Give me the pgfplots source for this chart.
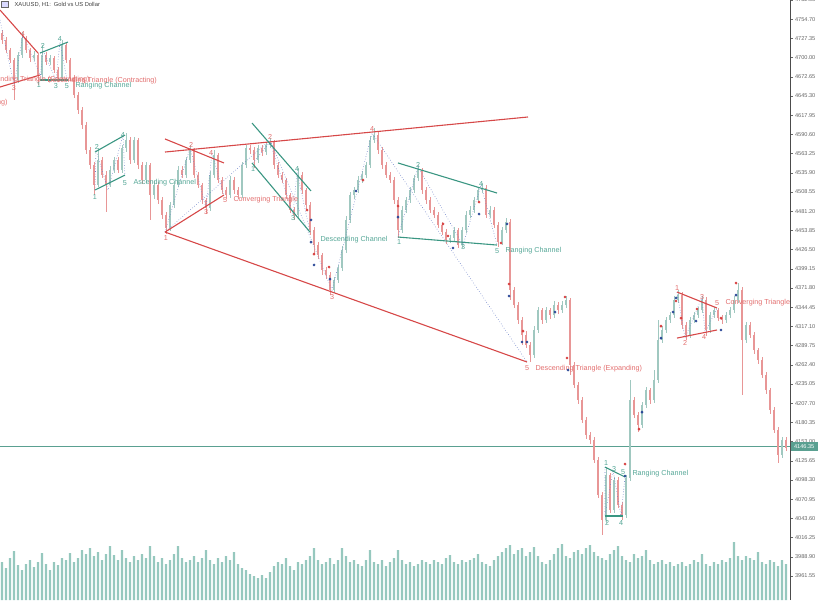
\documentclass[border=0pt]{standalone}
\usepackage{pgfplots}
\usepackage{pgfplotstable}
\usepackage{fontspec}
\setmainfont{Liberation Sans}
\pgfplotsset{compat=1.18}
\definecolor{upc}{RGB}{160,200,192}
\definecolor{dnc}{RGB}{232,150,150}
\definecolor{volc}{RGB}{150,200,190}
\definecolor{redline}{RGB}{214,72,72}
\definecolor{tealline}{RGB}{58,150,130}
\definecolor{redtxt}{RGB}{226,110,110}
\definecolor{tealtxt}{RGB}{84,166,150}
\definecolor{zig}{RGB}{110,130,200}
\definecolor{mred}{RGB}{214,60,60}
\definecolor{mblue}{RGB}{40,70,150}
\definecolor{pricec}{RGB}{90,160,145}
\newcommand{\lbl}{\fontsize{7.2}{8}\selectfont}

\pgfplotstableread{
o h l c
4735 4740 4720 4725
4725 4729 4706 4711
4711 4714 4692 4697
4697 4700 4640 4668
4668 4708 4664 4704
4704 4736 4700 4728
4728 4731 4706 4711
4711 4714 4694 4699
4699 4709 4695 4704
4704 4707 4661 4675
4675 4718 4671 4704
4704 4708 4690 4694
4694 4704 4689 4699
4699 4702 4678 4682
4682 4686 4665 4671
4671 4725 4668 4718
4718 4721 4692 4697
4697 4700 4666 4671
4671 4675 4642 4647
4647 4651 4620 4625
4625 4630 4598 4604
4604 4608 4562 4568
4568 4572 4541 4547
4547 4551 4504 4519
4519 4571 4515 4554
4554 4558 4528 4533
4533 4538 4480 4519
4519 4545 4515 4540
4540 4559 4536 4554
4554 4558 4535 4540
4540 4576 4536 4571
4571 4593 4566 4583
4583 4587 4549 4554
4554 4587 4550 4583
4583 4586 4542 4547
4547 4551 4520 4526
4526 4552 4522 4547
4547 4550 4469 4504
4504 4524 4499 4519
4519 4523 4492 4497
4497 4501 4470 4476
4476 4480 4449 4457
4457 4495 4453 4490
4490 4524 4486 4519
4519 4545 4515 4540
4540 4546 4528 4533
4533 4559 4529 4554
4554 4575 4550 4568
4568 4571 4528 4533
4533 4537 4514 4519
4519 4522 4492 4497
4497 4500 4477 4486
4486 4538 4482 4533
4533 4568 4529 4561
4561 4564 4521 4526
4526 4530 4506 4511
4511 4515 4498 4504
4504 4531 4500 4526
4526 4530 4506 4511
4511 4515 4499 4504
4504 4552 4500 4547
4547 4576 4543 4571
4571 4575 4563 4568
4568 4572 4543 4554
4554 4576 4550 4571
4571 4575 4560 4565
4565 4579 4561 4575
4575 4585 4571 4580
4580 4583 4542 4547
4547 4551 4528 4533
4533 4537 4521 4526
4526 4529 4499 4504
4504 4507 4478 4483
4483 4487 4469 4476
4476 4543 4472 4533
4533 4537 4506 4511
4511 4514 4485 4490
4490 4494 4448 4454
4454 4458 4419 4433
4433 4437 4413 4419
4419 4422 4391 4397
4397 4402 4384 4390
4390 4394 4362 4369
4369 4388 4365 4383
4383 4405 4379 4400
4400 4431 4396 4426
4426 4474 4422 4469
4469 4509 4465 4504
4504 4516 4499 4511
4511 4531 4507 4526
4526 4538 4521 4533
4533 4552 4529 4547
4547 4588 4543 4583
4583 4600 4579 4590
4590 4594 4563 4568
4568 4572 4542 4547
4547 4551 4528 4533
4533 4537 4521 4526
4526 4530 4492 4497
4497 4501 4443 4454
4454 4488 4450 4483
4483 4502 4479 4497
4497 4516 4493 4511
4511 4533 4507 4528
4528 4547 4524 4540
4540 4543 4506 4511
4511 4515 4492 4497
4497 4501 4478 4483
4483 4487 4471 4476
4476 4480 4457 4462
4462 4466 4447 4452
4452 4456 4435 4440
4440 4448 4436 4443
4443 4459 4439 4454
4454 4457 4429 4433
4433 4459 4429 4454
4454 4481 4450 4476
4476 4488 4472 4483
4483 4502 4479 4497
4497 4516 4493 4511
4511 4521 4507 4514
4514 4518 4471 4476
4476 4488 4472 4483
4483 4487 4457 4462
4462 4466 4430 4437
4437 4459 4433 4454
4454 4472 4450 4466
4466 4470 4355 4369
4369 4373 4343 4348
4348 4352 4321 4326
4326 4330 4291 4305
4305 4310 4286 4291
4291 4295 4266 4276
4276 4317 4272 4312
4312 4345 4308 4340
4340 4344 4321 4326
4326 4345 4322 4340
4340 4344 4328 4333
4333 4353 4329 4348
4348 4352 4335 4340
4340 4353 4336 4348
4348 4360 4344 4355
4355 4358 4248 4262
4262 4266 4229 4234
4234 4238 4207 4212
4212 4216 4179 4184
4184 4188 4157 4162
4162 4167 4150 4155
4155 4160 4122 4127
4127 4131 4072 4077
4077 4081 4020 4041
4041 4117 4037 4105
4105 4109 4051 4056
4056 4103 4052 4098
4098 4102 4058 4063
4063 4067 4041 4048
4048 4106 4044 4101
4101 4241 4097 4212
4212 4216 4186 4191
4191 4195 4167 4177
4177 4210 4173 4205
4205 4231 4201 4226
4226 4230 4207 4212
4212 4255 4208 4241
4241 4326 4237 4298
4298 4317 4294 4312
4312 4331 4308 4326
4326 4338 4322 4333
4333 4360 4329 4355
4355 4369 4351 4362
4362 4366 4314 4319
4319 4323 4298 4305
4305 4331 4301 4326
4326 4338 4322 4333
4333 4345 4329 4340
4340 4360 4336 4355
4355 4359 4303 4312
4312 4338 4308 4333
4333 4345 4329 4340
4340 4344 4325 4329
4329 4333 4321 4326
4326 4338 4322 4333
4333 4345 4329 4340
4340 4360 4336 4355
4355 4379 4351 4369
4369 4373 4219 4298
4298 4324 4294 4319
4319 4323 4300 4305
4305 4309 4278 4283
4283 4287 4264 4269
4269 4273 4243 4248
4248 4252 4221 4226
4226 4230 4193 4198
4198 4202 4165 4170
4170 4174 4122 4134
4134 4160 4130 4155
4155 4159 4139 4144
}\candles

\pgfplotstableread{
v
3800
3200
4200
4900
3500
3000
3600
4000
3300
3800
4700
3600
3000
3800
3500
4200
4000
4700
3800
4200
5000
4600
5200
4400
4800
4000
4600
5400
4500
4000
5000
4200
3800
4400
4000
4600
4200
5400
4400
3800
4200
3600
4000
4600
5400
4200
3800
4000
4400
3800
4200
5000
4000
3600
4200
3800
4400
4000
4800
3600
3200
3000
2600
2400
2200
2500
2200
2800
3400
3800
3600
4200
3400
3000
3800
3600
4000
4400
5200
4000
3600
3800
4200
3600
4000
5200
4400
3800
4000
3600
3400
4000
5000
3800
3600
4000
3400
3800
4200
5000
4000
3600
3800
3400
3600
4000
3800
3600
4000
3800
3600
4200
4500
3800
3600
4000
3800
4000
4200
4600
3800
3600
3400
4000
4400
4800
5200
5500
4600
5000
5200
4400
4800
5300
4400
3800
3600
4000
4600
5200
5600
4400
4200
4800
5000
4600
5200
5500
4800
4400
4200
4000
4600
5000
5400
4400
4000
3800
4600
4200
4400
5000
4000
3600
3800
4000
3600
3800
3400
3600
3800
3400
3600
4000
3800
4600
3600
3400
3800
3600
4000
3800
4200
5800
4400
4000
4400
4200
4000
4800
3800
3600
4000
3800
3400
4000
3600
}\vol

\begin{document}
\begin{tikzpicture}
% volume
\begin{axis}[at={(0pt,0pt)}, anchor=south west, scale only axis,
  width=790pt, height=600pt, xmin=0, xmax=790, ymin=0, ymax=60000,
  hide axis]
\addplot[ybar, bar width=2.4pt, fill=volc, draw=none]
  table[x expr=4*\coordindex+2, y=v] {\vol};
\end{axis}
% price
\begin{axis}[at={(0pt,0pt)}, anchor=south west, scale only axis,
  width=790pt, height=600pt, xmin=0, xmax=790, ymin=3927.4, ymax=4782.05,
  clip=false,
  axis x line=none, axis y line*=right,
  axis line style={draw=black!70, line width=0.6pt},
  xtick=\empty,
  scaled y ticks=false,
  ytick={3961.55,3988.90,4016.25,4043.60,4070.95,4098.30,4125.65,4153.00,4180.35,4207.70,4235.05,4262.40,4289.75,4317.10,4344.45,4371.80,4399.15,4426.50,4453.85,4481.20,4508.55,4535.90,4563.25,4590.60,4617.95,4645.30,4672.65,4700.00,4727.35,4754.70,4782.05},
  yticklabels={3961.55,3988.90,4016.25,4043.60,4070.95,4098.30,4125.65,4153.00,4180.35,4207.70,4235.05,4262.40,4289.75,4317.10,4344.45,4371.80,4399.15,4426.50,4453.85,4481.20,4508.55,4535.90,4563.25,4590.60,4617.95,4645.30,4672.65,4700.00,4727.35,4754.70,4782.05},
  tick align=outside, major tick length=2.5pt,
  tick style={draw=black!60, line width=0.4pt},
  yticklabel style={font=\fontsize{5.6}{6}\selectfont, text=black!60, xshift=-1pt},
  /pgf/number format/assume math mode=true,
  candle/.style={draw=none, no markers, forget plot,
    error bars/y dir=both, error bars/y explicit, error bars/error mark=none},
]
% current price line
\addplot[pricec, line width=0.5pt, forget plot] coordinates {(0,4146.35) (790,4146.35)};

% candles: wicks
\addplot[candle, error bars/error bar style={draw=upc, line width=0.5pt}]
  table[x expr=4*\coordindex+2, y expr=0.5*(\thisrow{h}+\thisrow{l}),
    y error expr=0.5*(\thisrow{h}-\thisrow{l}),
    restrict expr to domain={\thisrow{c}-\thisrow{o}}{0:1000}] {\candles};
\addplot[candle, error bars/error bar style={draw=dnc, line width=0.5pt}]
  table[x expr=4*\coordindex+2, y expr=0.5*(\thisrow{h}+\thisrow{l}),
    y error expr=0.5*(\thisrow{h}-\thisrow{l}),
    restrict expr to domain={\thisrow{c}-\thisrow{o}}{-1000:-0.01}] {\candles};
% candles: bodies
\addplot[candle, error bars/error bar style={draw=upc, line width=1.8pt}]
  table[x expr=4*\coordindex+2, y expr=0.5*(\thisrow{o}+\thisrow{c}),
    y error expr=0.5*(\thisrow{c}-\thisrow{o}),
    restrict expr to domain={\thisrow{c}-\thisrow{o}}{0:1000}] {\candles};
\addplot[candle, error bars/error bar style={draw=dnc, line width=1.8pt}]
  table[x expr=4*\coordindex+2, y expr=0.5*(\thisrow{o}+\thisrow{c}),
    y error expr=0.5*(\thisrow{o}-\thisrow{c}),
    restrict expr to domain={\thisrow{c}-\thisrow{o}}{-1000:-0.01}] {\candles};

% zigzags (dotted)
\addplot[zig, dotted, line width=0.6pt] coordinates {(165,4451.5) (270,4582.6) (332,4368.9) (372,4592.6) (527,4266.4)};
\addplot[zig, dotted, line width=0.6pt] coordinates {(165,4451.5) (190,4571.2) (206,4485.8) (212,4564.1) (224,4504.3)};
\addplot[zig, dotted, line width=0.6pt] coordinates {(253,4549.9) (270,4579.8) (293,4477.2) (297,4537.1) (310,4451.5)};
\addplot[zig, dotted, line width=0.6pt] coordinates {(398,4444.4) (418,4544.2) (463,4433.0) (481,4518.5) (497,4433.0)};
\addplot[zig, dotted, line width=0.6pt] coordinates {(95,4511.4) (96,4568.4) (108,4511.4) (123,4589.7) (125,4528.5)};
\addplot[zig, dotted, line width=0.6pt] coordinates {(0,4753.6) (14,4661.0) (23,4732.2) (40,4675.2)};
\addplot[zig, dotted, line width=0.6pt] coordinates {(40,4668.1) (43,4710.8) (56,4668.1) (60,4722.2) (67,4668.1)};
\addplot[zig, dotted, line width=0.6pt] coordinates {(605,4116.8) (605,4047.0) (613,4112.5) (621,4047.0) (625,4102.6)};
\addplot[zig, dotted, line width=0.6pt] coordinates {(677,4366.1) (685,4300.5) (702,4359.0) (705,4307.7) (717,4343.3)};

% pattern lines red
\addplot[redline, line width=1.1pt] coordinates {(0,4767.8) (38,4706.5)};
\addplot[redline, line width=1.1pt] coordinates {(0,4658.1) (40,4675.2)};
\addplot[redline, line width=1.1pt] coordinates {(165,4584.1) (224,4549.9)};
\addplot[redline, line width=1.1pt] coordinates {(165,4451.5) (224,4504.3)};
\addplot[redline, line width=1.1pt] coordinates {(165,4565.5) (528,4615.4)};
\addplot[redline, line width=1.1pt] coordinates {(165,4451.5) (527,4266.4)};
\addplot[redline, line width=1.1pt] coordinates {(677,4366.1) (717,4343.3)};
\addplot[redline, line width=1.1pt] coordinates {(677,4300.5) (717,4312.0)};
% pattern lines teal
\addplot[tealline, line width=1.1pt] coordinates {(40,4706.5) (68,4722.2)};
\addplot[tealline, line width=1.1pt] coordinates {(40,4668.1) (68,4668.1)};
\addplot[tealline, line width=1.1pt] coordinates {(95,4565.5) (125,4589.7)};
\addplot[tealline, line width=1.1pt] coordinates {(95,4511.4) (125,4532.7)};
\addplot[tealline, line width=1.1pt] coordinates {(252,4606.8) (311,4510.0)};
\addplot[tealline, line width=1.1pt] coordinates {(252,4549.9) (310,4451.5)};
\addplot[tealline, line width=1.1pt] coordinates {(398,4549.9) (497,4507.1)};
\addplot[tealline, line width=1.1pt] coordinates {(398,4444.4) (497,4433.0)};
\addplot[tealline, line width=1.1pt] coordinates {(605,4116.8) (625,4102.6)};
\addplot[tealline, line width=1.1pt] coordinates {(605,4047.0) (623,4047.0)};

% signal markers
\addplot[only marks, mark=*, mark size=1.2pt, mred] coordinates {
(363,4525.6) (307,4482.9) (314,4420.2) (329,4401.7) (398,4488.6) (443,4463.0) (448,4445.9) (479,4494.3) (501,4435.9) (509,4377.5) (565,4359.0) (523,4310.5) (567,4272.1) (661,4317.6) (676,4353.3) (681,4329.0) (697,4341.9) (721,4329.0) (736,4378.9) (639,4170.9) (625,4121.1)};
\addplot[only marks, mark=*, mark size=1.2pt, mblue] coordinates {
(356,4510.0) (311,4468.7) (311,4437.3) (314,4404.6) (330,4384.6) (398,4472.9) (453,4428.8) (479,4477.2) (507,4463.0) (509,4360.4) (522,4294.9) (527,4294.9) (555,4337.6) (568,4255.0) (661,4300.5) (676,4357.6) (673,4337.6) (696,4324.8) (721,4312.0) (736,4361.8) (642,4195.1) (625,4104.0)};

% labels red
\node[font=\lbl, text=redtxt, anchor=east] at (axis cs:93,4668.1) {Ascending Triangle (Contracting)};
\node[font=\lbl, text=redtxt, anchor=west] at (axis cs:44,4666.7) {Descending Triangle (Contracting)};
\node[font=\lbl, text=redtxt, anchor=east] at (axis cs:11,4635.3) {Descending Triangle (Expanding)};
\node[font=\lbl, text=redtxt] at (axis cs:14,4656.7) {3};
\node[font=\lbl, text=redtxt] at (axis cs:23,4734.0) {4};
\node[font=\lbl, text=redtxt] at (axis cs:166,4443.0) {1};
\node[font=\lbl, text=redtxt] at (axis cs:191,4575.5) {2};
\node[font=\lbl, text=redtxt] at (axis cs:206,4480.1) {3};
\node[font=\lbl, text=redtxt] at (axis cs:211,4564.1) {4};
\node[font=\lbl, text=redtxt] at (axis cs:225,4497.1) {5};
\node[font=\lbl, text=redtxt, anchor=west] at (axis cs:230,4497.1) {Converging Triangle};
\node[font=\lbl, text=redtxt] at (axis cs:270,4587.5) {2};
\node[font=\lbl, text=redtxt] at (axis cs:332,4359.0) {3};
\node[font=\lbl, text=redtxt] at (axis cs:372,4598.3) {4};
\node[font=\lbl, text=redtxt] at (axis cs:527,4257.8) {5};
\node[font=\lbl, text=redtxt, anchor=west] at (axis cs:532,4256.4) {Descending Triangle (Expanding)};
\node[font=\lbl, text=redtxt] at (axis cs:677,4371.8) {1};
\node[font=\lbl, text=redtxt] at (axis cs:685,4293.4) {2};
\node[font=\lbl, text=redtxt] at (axis cs:702,4359.0) {3};
\node[font=\lbl, text=redtxt] at (axis cs:704,4302.0) {4};
\node[font=\lbl, text=redtxt] at (axis cs:717,4350.4) {5};
\node[font=\lbl, text=redtxt, anchor=west] at (axis cs:722,4350.4) {Converging Triangle};
% labels teal
\node[font=\lbl, text=tealtxt] at (axis cs:43,4716.6) {2};
\node[font=\lbl, text=tealtxt] at (axis cs:60,4726.5) {4};
\node[font=\lbl, text=tealtxt] at (axis cs:39,4661.0) {1};
\node[font=\lbl, text=tealtxt] at (axis cs:56,4659.6) {3};
\node[font=\lbl, text=tealtxt] at (axis cs:67,4659.6) {5};
\node[font=\lbl, text=tealtxt, anchor=west] at (axis cs:72,4659.6) {Ranging Channel};
\node[font=\lbl, text=tealtxt] at (axis cs:95,4501.4) {1};
\node[font=\lbl, text=tealtxt] at (axis cs:97,4572.6) {2};
\node[font=\lbl, text=tealtxt] at (axis cs:123,4589.7) {4};
\node[font=\lbl, text=tealtxt] at (axis cs:125,4521.4) {5};
\node[font=\lbl, text=tealtxt, anchor=west] at (axis cs:130,4521.4) {Ascending Channel};
\node[font=\lbl, text=tealtxt] at (axis cs:253,4541.3) {1};
\node[font=\lbl, text=tealtxt] at (axis cs:293,4471.5) {3};
\node[font=\lbl, text=tealtxt] at (axis cs:297,4541.3) {4};
\node[font=\lbl, text=tealtxt, anchor=west] at (axis cs:317,4440.2) {Descending Channel};
\node[font=\lbl, text=tealtxt] at (axis cs:399,4437.3) {1};
\node[font=\lbl, text=tealtxt] at (axis cs:418,4547.0) {2};
\node[font=\lbl, text=tealtxt] at (axis cs:463,4430.2) {3};
\node[font=\lbl, text=tealtxt] at (axis cs:481,4519.9) {4};
\node[font=\lbl, text=tealtxt] at (axis cs:497,4424.5) {5};
\node[font=\lbl, text=tealtxt, anchor=west] at (axis cs:502,4424.5) {Ranging Channel};
\node[font=\lbl, text=tealtxt] at (axis cs:606,4122.5) {1};
\node[font=\lbl, text=tealtxt] at (axis cs:614,4114.0) {3};
\node[font=\lbl, text=tealtxt] at (axis cs:623,4109.7) {5};
\node[font=\lbl, text=tealtxt] at (axis cs:607,4037.0) {2};
\node[font=\lbl, text=tealtxt] at (axis cs:621,4037.0) {4};
\node[font=\lbl, text=tealtxt, anchor=west] at (axis cs:629,4106.8) {Ranging Channel};

% title
\node[draw=black!60, fill=blue!15, minimum width=7pt, minimum height=6pt, inner sep=0pt] at (axis cs:5,4776) {};
\node[font=\fontsize{5.8}{6}\selectfont, text=black!75, anchor=west] at (axis cs:11,4775.5) {XAUUSD, H1:\enspace Gold vs US Dollar};
% current price tag
\node[fill=pricec, text=white, font=\fontsize{5.6}{6}\selectfont, inner sep=1pt, minimum width=27pt, minimum height=9pt, anchor=west] at (axis cs:790.5,4146.35) {4146.35};
\end{axis}
\pgfresetboundingbox
\path[use as bounding box] (0pt,0pt) rectangle (818pt,600pt);
\end{tikzpicture}
\end{document}
